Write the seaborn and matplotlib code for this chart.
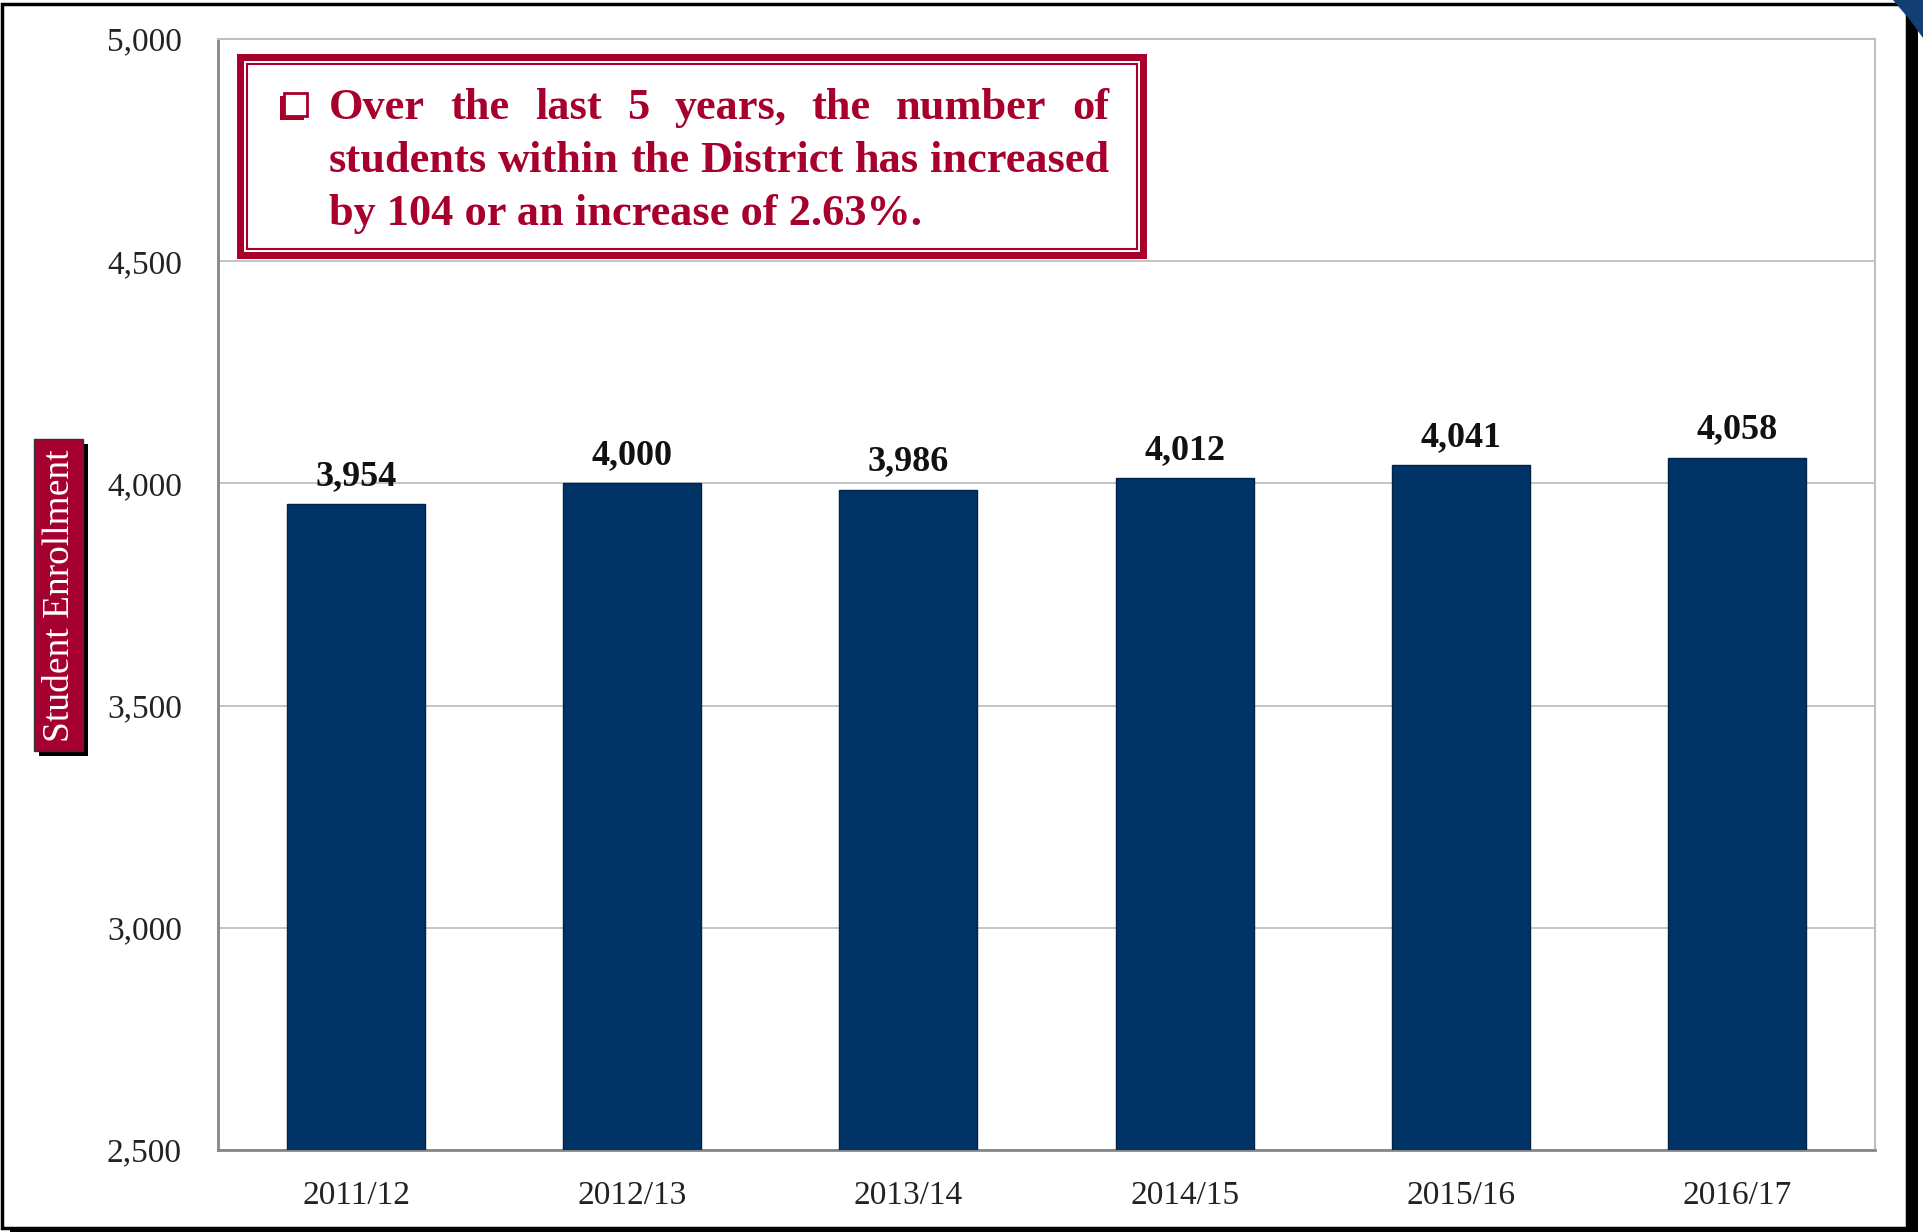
import matplotlib
matplotlib.use("Agg")
import matplotlib.pyplot as plt
import seaborn as sns
import pandas as pd
from matplotlib.patches import Rectangle, Polygon

years = ["2011/12", "2012/13", "2013/14", "2014/15", "2015/16", "2016/17"]
enrollment = [3954, 4000, 3986, 4012, 4041, 4058]
y_ticks = [2500, 3000, 3500, 4000, 4500, 5000]
note_lines = ["Over the last 5 years, the number of",
              "students within the District has increased",
              "by 104 or an increase of 2.63%."]
y_label = "Student Enrollment"

sns.set_style("white")
plt.rcParams['font.family'] = ['Liberation Serif', 'DejaVu Serif']

W, H = 1923, 1232
fig = plt.figure(figsize=(W / 100, H / 100), dpi=100)
ax = fig.add_axes([218 / W, 1 - 1150 / H, (1875 - 218) / W, (1150 - 39) / H])

df = pd.DataFrame({"year": years, "enrollment": enrollment})
sns.barplot(data=df, x="year", y="enrollment", color="#003366", width=0.5,
            edgecolor="#00234a", linewidth=1, saturation=1, ax=ax, zorder=3)

ax.set_ylim(2500, 5000)
ax.set_xlim(-0.5, len(years) - 0.5)
ax.set_yticks(y_ticks)
ax.set_yticklabels([f"{v:,}" for v in y_ticks], fontsize=24, color="#222222")
ax.set_xticks(range(len(years)))
ax.set_xticklabels(years, fontsize=24, color="#222222")
ax.set_xticks([i - 0.5 for i in range(len(years) + 1)], minor=True)
ax.tick_params(axis="x", which="major", length=0, pad=22)
ax.tick_params(axis="x", which="minor", length=11, width=2, color="#868686")
ax.tick_params(axis="y", which="major", length=8, width=2, color="#868686", pad=18)
ax.set_xlabel("")
ax.set_ylabel("")
ax.yaxis.grid(True, color="#BFBFBF", linewidth=1.3, zorder=0)
ax.set_axisbelow(True)
for s in ["left", "bottom"]:
    ax.spines[s].set_color("#868686")
    ax.spines[s].set_linewidth(2)
for s in ["top", "right"]:
    ax.spines[s].set_color("#BFBFBF")
    ax.spines[s].set_linewidth(1.5)

for cont in ax.containers:
    ax.bar_label(cont, labels=[f"{v:,}" for v in enrollment], padding=8,
                 fontsize=26, fontweight="bold", color="#111111")

# helper: pixel coords (top-origin) to figure fraction
def fx(x):
    return x / W
def fy(y):
    return 1 - y / H

red = "#A8002C"
# annotation box: thick outer border, white gap, thin inner line
fig.patches.append(Rectangle((fx(237), fy(259)), (1147 - 237) / W, (259 - 54) / H,
                             transform=fig.transFigure, facecolor=red, edgecolor="none", zorder=5))
fig.patches.append(Rectangle((fx(244), fy(252)), (1140 - 244) / W, (252 - 61) / H,
                             transform=fig.transFigure, facecolor="white", edgecolor="none", zorder=5))
fig.patches.append(Rectangle((fx(247), fy(249)), (1137 - 247) / W, (249 - 64) / H,
                             transform=fig.transFigure, facecolor="white", edgecolor=red,
                             linewidth=1.5, zorder=5))

fig.canvas.draw()
renderer = fig.canvas.get_renderer()

def width_px(s, size):
    t = fig.text(0, 0, s, fontsize=size, fontweight="bold")
    w = t.get_window_extent(renderer).width
    t.remove()
    return w

left_x, right_x = 329, 1109
base = 20
fs = base * (right_x - left_x) / width_px(note_lines[1], base)
baselines = [119, 172, 225]
for i, line in enumerate(note_lines):
    if i < 2:
        words = line.split()
        widths = [width_px(wd, fs) for wd in words]
        gap = (right_x - left_x - sum(widths)) / (len(words) - 1)
        x = left_x
        for wd, w in zip(words, widths):
            fig.text(fx(x), fy(baselines[i]), wd, fontsize=fs, fontweight="bold",
                     color=red, ha="left", va="baseline", zorder=6)
            x += w + gap
    else:
        fig.text(fx(left_x), fy(baselines[i]), line, fontsize=fs, fontweight="bold",
                 color=red, ha="left", va="baseline", zorder=6)

# checkbox bullet (shadowed square)
fig.patches.append(Rectangle((fx(280), fy(120)), 24 / W, 24 / H, transform=fig.transFigure,
                             facecolor=red, edgecolor="none", zorder=6))
fig.patches.append(Rectangle((fx(284), fy(116)), 23 / W, 23 / H, transform=fig.transFigure,
                             facecolor="white", edgecolor=red, linewidth=2, zorder=7))

# y-label box with shadow
fig.patches.append(Rectangle((fx(39), fy(756)), 49 / W, 312 / H, transform=fig.transFigure,
                             facecolor="black", edgecolor="none", zorder=4))
fig.patches.append(Rectangle((fx(34), fy(751)), 49 / W, 312 / H, transform=fig.transFigure,
                             facecolor="#A50030", edgecolor="#333333", linewidth=1, zorder=5))
fig.text(fx(60), fy(596), y_label, rotation=90, fontsize=27, color="white",
         ha="center", va="center", zorder=6)

# outer slide frame with shadow
fig.patches.append(Rectangle((fx(1907), fy(1232)), 11 / W, (1232 - 10) / H,
                             transform=fig.transFigure, facecolor="black", edgecolor="none", zorder=1))
fig.patches.append(Rectangle((fx(10), fy(1232)), 1908 / W, 4 / H,
                             transform=fig.transFigure, facecolor="black", edgecolor="none", zorder=1))
fig.patches.append(Rectangle((fx(2), fy(1228)), (1907 - 2) / W, (1228 - 4) / H,
                             transform=fig.transFigure, facecolor="none", edgecolor="black",
                             linewidth=2.5, zorder=1))
fig.patches.append(Polygon([(fx(1893), fy(0)), (fx(1923), fy(0)), (fx(1923), fy(38)),
                            (fx(1910), fy(20))], closed=True, transform=fig.transFigure,
                           facecolor="#123f73", edgecolor="none", zorder=2))

fig.savefig("out.png", dpi=100, facecolor="white")
